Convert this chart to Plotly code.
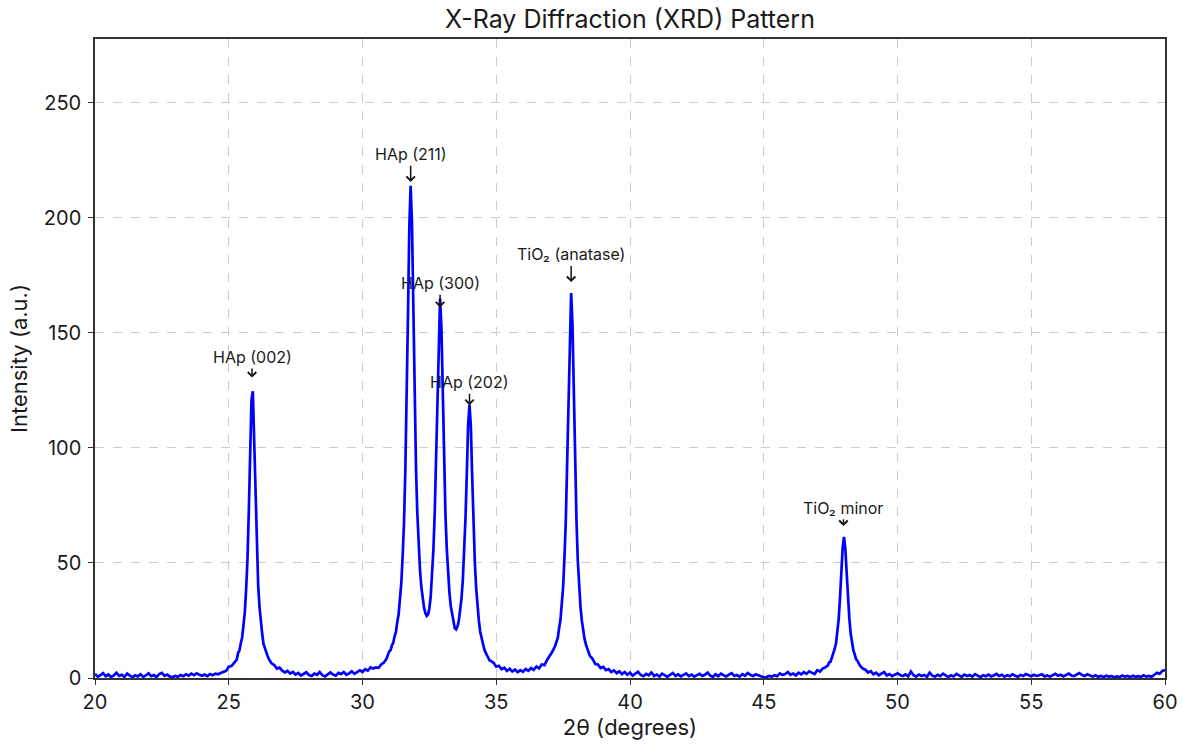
import plotly.graph_objects as go

# --- Data (2theta grid segments and intensities) ---
# Each segment: start angle, step, intensity values
seg_a_start, seg_a_step = 20.0, 0.1
seg_a = [1.8, 0.6, 1.2, 2.1, 0.8, 1.5, 0.4, 1.1, 2.3, 0.9,
         1.4, 0.5, 1.9, 1.0, 0.3, 1.2, 0.7, 1.6, 0.5, 1.1,
         2.0, 0.8, 1.3, 0.4, 1.7, 2.2, 0.9, 1.5, 0.6, 0.4,
         0.9, 0.5, 1.3, 0.8, 1.6, 1.0, 1.9, 1.2, 2.0, 1.4,
         1.0, 1.5, 0.8, 1.7, 1.2, 1.9, 1.6, 2.2, 2.5, 3.1,
         4.9, 5.2, 6.6, 8.0]

seg_b_start, seg_b_step = 25.35, 0.05
seg_b = [10.9, 12.0, 15.1, 17.6, 22.9, 28.5, 38.6, 51.6, 72.4, 97.3,
         120.8, 124.6, 103.4, 76.3, 55.9, 40.1, 30.9, 23.1, 19.2, 14.8,
         13.1, 10.4, 9.6]

seg_c_start, seg_c_step = 26.5, 0.1
seg_c = [8.2, 6.4, 5.6, 4.1, 4.5, 3.2, 2.4, 3.1, 1.9, 2.6,
         1.5, 2.2, 1.1, 1.8, 2.5, 1.3, 0.9, 1.9, 1.4, 2.6,
         1.2, 0.7, 1.6, 2.4, 1.5, 1.0, 2.2, 1.7, 2.6, 1.4,
         2.0, 2.9, 1.8, 2.5, 3.3, 2.6, 3.8, 3.2, 4.6, 4.1,
         4.6, 4.4, 5.9, 6.7, 8.4]

seg_t_start, seg_t_step = 31.0, 0.05
seg_t = [11.6, 12.1, 14.2, 15.3, 18.1, 20.0, 24.3, 27.7, 34.4, 41.2,
         52.8, 66.9, 89.3, 118.4, 157.6, 196.0, 213.8, 197.3, 158.4, 121.3,
         91.2, 71.4, 56.5, 46.8, 39.6, 34.3, 30.6, 28.2, 27.0, 27.6,
         30.3, 35.4, 43.5, 55.6, 71.8, 94.6, 123.1, 151.6, 164.8, 152.3,
         122.2, 94.4, 71.3, 56.2, 44.7, 37.1, 31.2, 27.3, 23.8, 21.6,
         21.1, 22.3, 24.9, 28.7, 34.5, 42.4, 53.2, 69.5, 89.1, 110.2,
         118.8, 109.5, 87.6, 67.2, 50.1, 38.9, 30.2, 24.9, 20.1, 17.4,
         14.5, 12.6, 11.1, 9.6, 8.8, 7.6, 7.4]

seg_d_start, seg_d_step = 34.9, 0.1
seg_d = [6.6, 4.9, 5.3, 3.8, 4.5, 3.1, 4.0, 2.8, 3.7, 2.5,
         3.4, 2.7, 3.9, 3.1, 4.3, 3.5, 5.0, 4.2, 5.9, 5.6,
         7.8, 9.6, 11.5, 13.9]

seg_e_start, seg_e_step = 37.25, 0.05
seg_e = [15.6, 17.4, 21.6, 25.2, 32.3, 39.6, 52.4, 68.2, 93.1, 122.4,
         154.1, 167.2, 153.2, 123.3, 91.8, 68.1, 50.6, 39.2, 30.8, 24.9,
         20.6, 17.1, 14.6]

seg_f_start, seg_f_step = 38.4, 0.1
seg_f = [12.8, 9.6, 8.3, 6.1, 5.9, 4.3, 4.8, 3.4, 3.9, 2.6,
         3.3, 2.1, 2.9, 1.7, 2.6, 1.4, 2.3, 1.0, 1.9, 2.7,
         1.3, 0.8, 1.8, 1.2, 2.4, 0.9, 1.5, 0.6, 1.9, 1.1,
         0.5, 1.4, 2.2, 0.9, 1.6, 0.7, 1.3, 2.0, 0.8, 1.5,
         0.6, 1.1, 1.8, 0.9, 1.4, 2.3, 1.0, 0.5, 1.6, 0.8,
         1.9, 1.2, 0.7, 1.5, 2.1, 0.9, 1.3, 0.6, 1.7, 1.0,
         2.2, 1.4, 0.8, 1.6, 1.1, 0.6, 0.3, 0.4, 0.9, 0.6,
         1.2, 0.8, 2.0, 1.3, 1.7, 2.6, 1.4, 1.9, 1.1, 2.3,
         1.6, 2.5, 1.8, 2.9, 2.2, 1.7, 3.4, 2.8, 4.1, 4.6,
         5.5]

seg_g_start, seg_g_step = 47.45, 0.05
seg_g = [6.8, 7.1, 8.9, 9.8, 12.6, 15.0, 19.9, 25.4, 34.6, 45.1,
         56.7, 61.3, 56.1, 45.6, 34.0, 25.9, 19.3, 15.5, 12.1, 10.3,
         8.2, 7.5, 6.1]

seg_h_start, seg_h_step = 48.6, 0.1
seg_h = [5.3, 4.1, 3.6, 2.4, 3.0, 1.6, 2.3, 1.2, 1.8, 2.6,
         1.1, 1.7, 0.8, 1.4, 2.0, 1.3, 0.9, 1.6, 0.7, 2.8,
         1.2, 0.6, 1.5, 0.9, 1.3, 0.5, 2.3, 1.0, 0.6, 1.4,
         0.8, 1.9, 1.1, 0.4, 1.2, 0.7, 1.8, 1.0, 0.5, 1.5,
         0.9, 1.3, 0.6, 1.7, 1.0, 0.4, 1.2, 0.8, 1.5, 0.7,
         1.1, 1.8, 0.9, 1.4, 0.6, 1.2, 0.8, 1.6, 1.0, 0.5,
         1.3, 0.9, 1.7, 1.1, 0.8, 1.4, 0.9, 1.2, 1.6, 0.7,
         1.1, 0.6, 1.3, 1.8, 1.0, 1.4, 0.7, 1.2, 1.9, 1.1,
         0.8, 1.5, 2.1, 1.3, 0.9, 1.6, 1.0, 0.6, 1.2, 0.5,
         0.9, 0.4, 1.0, 0.6, 0.8, 0.3, 0.7, 0.4, 1.1, 0.6,
         0.9, 0.4, 1.0, 0.5, 0.8, 0.4, 1.2, 0.6, 0.9, 0.5,
         1.4, 2.3, 1.8, 3.1, 3.4]

# Peak labels
peak_labels = ["HAp (002)", "HAp (211)", "HAp (300)", "HAp (202)",
               "TiO₂ (anatase)", "TiO₂ minor"]
peak_x = [25.87, 31.8, 32.9, 34.0, 37.8, 47.98]
arrow_tip_y = [130.5, 215.5, 161.0, 118.5, 172.0, 66.0]
label_y = [139.5, 227.5, 171.5, 128.5, 184.0, 74.0]

# --- Assemble the sampled pattern ---
segments = [
    (seg_a_start, seg_a_step, seg_a),
    (seg_b_start, seg_b_step, seg_b),
    (seg_c_start, seg_c_step, seg_c),
    (seg_t_start, seg_t_step, seg_t),
    (seg_d_start, seg_d_step, seg_d),
    (seg_e_start, seg_e_step, seg_e),
    (seg_f_start, seg_f_step, seg_f),
    (seg_g_start, seg_g_step, seg_g),
    (seg_h_start, seg_h_step, seg_h),
]
two_theta, intensity = [], []
for start, step, vals in segments:
    for i, v in enumerate(vals):
        two_theta.append(round(start + i * step, 3))
        intensity.append(v)

FONT = "Inter, Lato, 'Open Sans', sans-serif"
TXT = "#1a1a1a"
AX = "#333333"

fig = go.Figure()
fig.add_trace(go.Scatter(x=two_theta, y=intensity, mode="lines",
                         line=dict(color="#0000ff", width=2.7),
                         showlegend=False, hoverinfo="x+y"))

for lab, px, ty, ly in zip(peak_labels, peak_x, arrow_tip_y, label_y):
    fig.add_annotation(x=px, y=ty, xref="x", yref="y",
                       ax=px, ay=ly, axref="x", ayref="y",
                       text=lab, showarrow=True,
                       arrowhead=4, arrowsize=1.1, arrowwidth=1.5,
                       arrowcolor="#111111",
                       font=dict(family=FONT, size=16, color=TXT))

fig.update_layout(
    width=1182, height=744,
    paper_bgcolor="white", plot_bgcolor="white",
    margin=dict(l=95, r=17, t=39, b=66, autoexpand=False),
    title=dict(text="X-Ray Diffraction (XRD) Pattern",
               xref="paper", x=0.5, xanchor="center",
               yref="container", y=0.9745, yanchor="middle",
               font=dict(family=FONT, size=25, color=TXT)),
    font=dict(family=FONT, color=TXT),
)
fig.update_xaxes(range=[20, 60], tickmode="array",
                 tickvals=[20, 25, 30, 35, 40, 45, 50, 55, 60],
                 ticks="outside", ticklen=5, tickwidth=1.2, tickcolor=AX,
                 showline=True, linecolor=AX, linewidth=1.5, mirror=True,
                 showgrid=True, gridcolor="#cccccc", griddash="dash", gridwidth=1,
                 zeroline=False, automargin=False,
                 tickfont=dict(family=FONT, size=20, color=TXT),
                 title=dict(text="2θ (degrees)", standoff=6,
                            font=dict(family=FONT, size=22, color=TXT)))
fig.update_yaxes(range=[0, 277.6], tickmode="array",
                 tickvals=[0, 50, 100, 150, 200, 250],
                 ticks="outside", ticklen=5, tickwidth=1.2, tickcolor=AX,
                 showline=True, linecolor=AX, linewidth=1.5, mirror=True,
                 showgrid=True, gridcolor="#cccccc", griddash="dash", gridwidth=1,
                 zeroline=False, ticklabelstandoff=3, automargin=False,
                 tickfont=dict(family=FONT, size=20, color=TXT),
                 title=dict(text="Intensity (a.u.)", standoff=10,
                            font=dict(family=FONT, size=22, color=TXT)))

# Remove the default page margin so the 1182x744 figure fills the window exactly.
fig.write_html("out.html",
               config={"displayModeBar": False},
               post_script="document.body.style.margin='0';"
                           "document.body.style.overflow='hidden';")
